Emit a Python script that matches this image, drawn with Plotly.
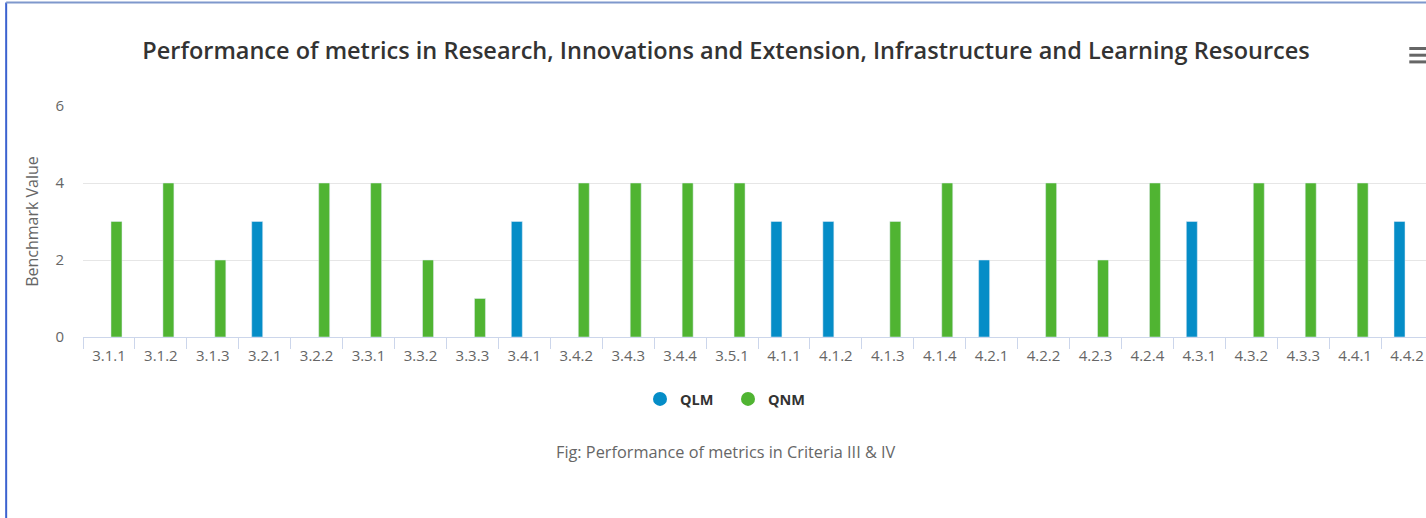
import plotly.graph_objects as go

categories = ["3.1.1", "3.1.2", "3.1.3", "3.2.1", "3.2.2", "3.3.1", "3.3.2", "3.3.3", "3.4.1",
              "3.4.2", "3.4.3", "3.4.4", "3.5.1", "4.1.1", "4.1.2", "4.1.3", "4.1.4", "4.2.1",
              "4.2.2", "4.2.3", "4.2.4", "4.3.1", "4.3.2", "4.3.3", "4.4.1", "4.4.2"]
qlm_values = [None, None, None, 3, None, None, None, None, 3, None, None, None, None,
              3, 3, None, None, 2, None, None, None, 3, None, None, None, 3]
qnm_values = [3, 4, 2, None, 4, 4, 2, 1, None, 4, 4, 4, 4,
              None, None, 3, 4, None, 4, 2, 4, None, 4, 4, 4, None]
y_ticks = [0, 2, 4, 6]

W, H = 1444, 518
CAT_W = 51.9
PL, PT, PB = 83.3, 106, 337
PR = PL + CAT_W * len(categories)
FONT = "Open Sans"
BLUE = "#058DC7"
GREEN = "#50B432"


def px_x(x):
    return (x - PL) / (PR - PL)


def px_y(y):
    return (PB - y) / (PB - PT)


fig = go.Figure()
fig.add_trace(go.Bar(name="QLM", x=categories, y=qlm_values, marker_color=BLUE,
                     showlegend=False))
fig.add_trace(go.Bar(name="QNM", x=categories, y=qnm_values, marker_color=GREEN,
                     showlegend=False))
# legend entries with round symbols
fig.add_trace(go.Scatter(name="QLM", x=[None], y=[None], mode="markers",
                         marker=dict(color=BLUE, size=14, symbol="circle")))
fig.add_trace(go.Scatter(name="QNM", x=[None], y=[None], mode="markers",
                         marker=dict(color=GREEN, size=14, symbol="circle")))

shapes = [
    # page borders
    dict(type="line", xref="paper", yref="paper", x0=px_x(6.5), x1=px_x(6.5),
         y0=px_y(2.5), y1=px_y(530), line=dict(color="#3b62cf", width=2)),
    dict(type="line", xref="paper", yref="paper", x0=px_x(6.5), x1=px_x(1450),
         y0=px_y(2.5), y1=px_y(2.5), line=dict(color="#7f98cc", width=2)),
]
for yy in (48.5, 55.2, 61.9):
    shapes.append(dict(type="line", xref="paper", yref="paper", x0=px_x(1409), x1=px_x(1427),
                       y0=px_y(yy), y1=px_y(yy), line=dict(color="#666666", width=3)))

fig.update_layout(
    width=W, height=H,
    margin=dict(l=PL, r=W - PR, t=PT, b=H - PB, pad=0),
    paper_bgcolor="white", plot_bgcolor="white",
    font=dict(family=FONT, color="#666666"),
    barmode="group", bargap=0.42, bargroupgap=0.27,
    title=dict(text="Performance of metrics in Research, Innovations and Extension, Infrastructure and Learning Resources",
               x=726 / W, xref="container", xanchor="center",
               y=1 - 51 / H, yref="container", yanchor="middle",
               font=dict(family=FONT, size=23.5, color="#333333", weight=600)),
    legend=dict(orientation="h", xref="container", yref="container",
                x=728 / W, xanchor="center", y=1 - 399 / H, yanchor="middle",
                font=dict(family=FONT, size=14.5, color="#333333", weight="bold"),
                itemsizing="trace", itemwidth=30, traceorder="normal",
                entrywidth=43, entrywidthmode="pixels"),
    xaxis=dict(type="category", range=[-0.5, len(categories) - 0.5], showgrid=False,
               showline=True, linecolor="#ccd6eb", linewidth=1,
               ticks="outside", tickson="boundaries", ticklen=11, tickcolor="#ccd6eb",
               ticklabelstandoff=5,
               tickfont=dict(family=FONT, size=15, color="#666666"), fixedrange=True),
    yaxis=dict(range=[0, 6], tickvals=y_ticks, showgrid=True, gridcolor="#e6e6e6",
               zeroline=False, showline=False, ticks="", ticklabelstandoff=18,
               tickfont=dict(family=FONT, size=15, color="#666666"),
               title=dict(text="Benchmark Value", standoff=12,
                          font=dict(family=FONT, size=16, color="#666666"))),
    shapes=shapes,
    annotations=[dict(text="Fig: Performance of metrics in Criteria III &amp; IV",
                      xref="paper", yref="paper", x=px_x(726), y=px_y(452),
                      xanchor="center", yanchor="middle", showarrow=False,
                      font=dict(family=FONT, size=16.3, color="#666666"))],
)

fig.write_html("out.html", config={"displayModeBar": False},
               post_script="document.body.style.margin='0';")
